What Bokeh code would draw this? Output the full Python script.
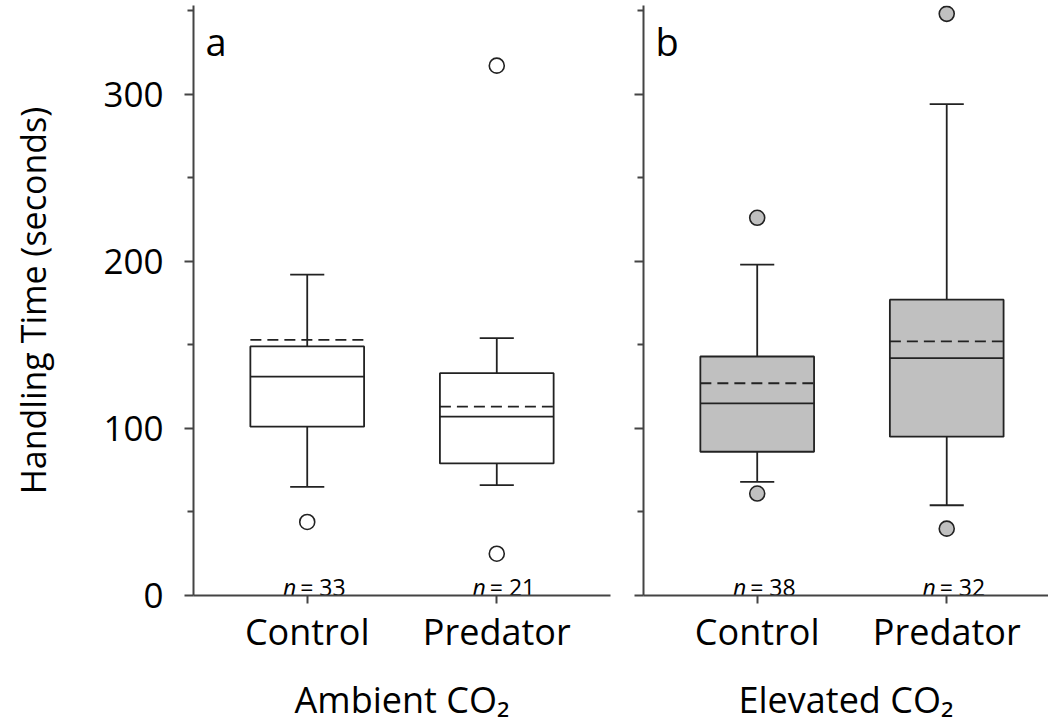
from bokeh.plotting import figure
from bokeh.models import Range1d, FixedTicker, Label
from bokeh.layouts import row
from bokeh.embed import file_html
from bokeh.resources import INLINE
from bokeh.core.properties import value

# ---------------- data ----------------
treatments = ["Control", "Predator"]

ambient_lower = [65, 66]
ambient_q1 = [101, 79]
ambient_median = [131, 107]
ambient_mean = [153, 113]
ambient_q3 = [149, 133]
ambient_upper = [192, 154]
ambient_out_group = ["Control", "Predator", "Predator"]
ambient_out_value = [44, 317, 25]
ambient_n = [33, 21]

elevated_lower = [68, 54]
elevated_q1 = [86, 95]
elevated_median = [115, 142]
elevated_mean = [127, 152]
elevated_q3 = [143, 177]
elevated_upper = [198, 294]
elevated_out_group = ["Control", "Control", "Predator", "Predator"]
elevated_out_value = [226, 61, 348, 40]
elevated_n = [38, 32]

y_ticks = [0, 100, 200, 300]
y_minor = [50, 150, 250, 350]

FONT = "Open Sans"
LINE = "#222222"
AXIS = "#444444"


def panel(width, border_left, border_right, x_end, lower, q1, med, mean, q3, upper,
          out_group, out_value, ns, fill, letter, xlabel, show_ylabels):
    p = figure(width=width, height=726, x_range=Range1d(0.4, x_end), y_range=Range1d(0, 353),
               output_backend="svg", toolbar_location=None,
               min_border_left=border_left, min_border_right=border_right,
               min_border_top=5, min_border_bottom=130)
    p.outline_line_color = None
    p.xgrid.grid_line_color = None
    p.ygrid.grid_line_color = None
    p.background_fill_color = "white"
    p.border_fill_color = "white"

    pos = [i + 1 for i in range(len(treatments))]
    half = 0.3
    cap = 0.09

    # whiskers
    p.segment(x0=pos, y0=q3, x1=pos, y1=upper, line_color=LINE, line_width=1.8)
    p.segment(x0=pos, y0=q1, x1=pos, y1=lower, line_color=LINE, line_width=1.8)
    p.segment(x0=[x - cap for x in pos], y0=upper, x1=[x + cap for x in pos], y1=upper,
              line_color=LINE, line_width=1.8)
    p.segment(x0=[x - cap for x in pos], y0=lower, x1=[x + cap for x in pos], y1=lower,
              line_color=LINE, line_width=1.8)
    # boxes
    p.quad(left=[x - half for x in pos], right=[x + half for x in pos], bottom=q1, top=q3,
           fill_color=fill, line_color=LINE, line_width=1.8)
    # median
    p.segment(x0=[x - half for x in pos], y0=med, x1=[x + half for x in pos], y1=med,
              line_color=LINE, line_width=1.8)
    # mean (dashed)
    p.segment(x0=[x - half for x in pos], y0=mean, x1=[x + half for x in pos], y1=mean,
              line_color=LINE, line_width=1.8, line_dash="11 6")
    # outliers
    ox = [treatments.index(g) + 1 for g in out_group]
    p.scatter(x=ox, y=out_value, marker="circle", size=15, fill_color=fill,
              line_color=LINE, line_width=1.6)

    # n labels
    p.text(x=pos, y=[5] * len(pos), text=["n"] * len(pos), text_font=value(FONT),
           text_font_style="italic", text_font_size="23px", text_align="right",
           text_baseline="alphabetic", x_offset=-11, text_color="black")
    p.text(x=pos, y=[5] * len(pos), text=["= %d" % n for n in ns], text_font=value(FONT),
           text_font_size="23px", text_align="left", text_baseline="alphabetic",
           x_offset=-7, text_color="black")

    # panel letter
    p.add_layout(Label(x=0.4, y=353, x_offset=12, y_offset=-9, text=letter,
                       text_font=FONT, text_font_size="38px", text_baseline="top",
                       text_align="left", text_color="black"))

    # axes
    xa = p.xaxis[0]
    xa.ticker = FixedTicker(ticks=pos)
    xa.major_label_overrides = {x: t for x, t in zip(pos, treatments)}
    xa.major_tick_in = 0
    xa.major_tick_out = 8
    xa.minor_tick_out = 0
    xa.minor_tick_in = 0
    xa.axis_line_color = AXIS
    xa.axis_line_width = 2
    xa.major_tick_line_color = AXIS
    xa.major_tick_line_width = 2
    xa.major_label_text_font = FONT
    xa.major_label_text_font_size = "36px"
    xa.major_label_text_color = "black"
    xa.major_label_standoff = 3
    xa.axis_label = xlabel
    xa.axis_label_text_font = FONT
    xa.axis_label_text_font_size = "36px"
    xa.axis_label_text_font_style = "normal"
    xa.axis_label_text_color = "black"
    xa.axis_label_standoff = 16

    ya = p.yaxis[0]
    ya.ticker = FixedTicker(ticks=y_ticks, minor_ticks=y_minor)
    ya.major_tick_in = 0
    ya.major_tick_out = 9
    ya.minor_tick_in = 0
    ya.minor_tick_out = 6
    ya.axis_line_color = AXIS
    ya.axis_line_width = 2
    ya.major_tick_line_color = AXIS
    ya.major_tick_line_width = 2
    ya.minor_tick_line_color = AXIS
    ya.minor_tick_line_width = 2
    if show_ylabels:
        ya.major_label_text_font = FONT
        ya.major_label_text_font_size = "35px"
        ya.major_label_text_color = "black"
        ya.major_label_standoff = 21
        ya.axis_label = "Handling Time (seconds)"
        ya.axis_label_text_font = FONT
        ya.axis_label_text_font_size = "34px"
        ya.axis_label_text_font_style = "normal"
        ya.axis_label_text_color = "black"
        ya.axis_label_standoff = 44
    else:
        ya.major_label_overrides = {t: "" for t in y_ticks}
        ya.major_label_standoff = 0
    return p


p1 = panel(620, 193, 10, 2.6, ambient_lower, ambient_q1, ambient_median, ambient_mean,
           ambient_q3, ambient_upper, ambient_out_group, ambient_out_value, ambient_n,
           "white", "a", "Ambient CO\u2082", True)
p2 = panel(428, 23, 0, 2.537, elevated_lower, elevated_q1, elevated_median, elevated_mean,
           elevated_q3, elevated_upper, elevated_out_group, elevated_out_value, elevated_n,
           "#c0c0c0", "b", "Elevated CO\u2082", False)

layout = row(p1, p2)
open("out.html", "w").write(file_html(layout, INLINE))
